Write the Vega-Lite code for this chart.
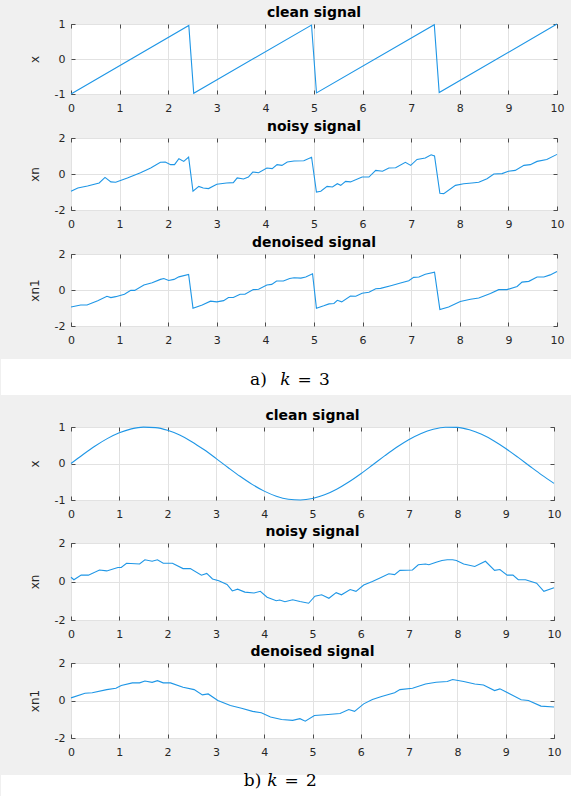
{
  "$schema": "https://vega.github.io/schema/vega-lite/v6.json",
  "background": "#f0f0f0",
  "padding": {"top": 5, "left": 0, "right": 0, "bottom": 0},
  "spacing": 13,
  "config": {
    "font": "DejaVu Sans",
    "view": {"stroke": "#262626", "strokeWidth": 1, "fill": "white"},
    "axis": {"labelFont": "DejaVu Sans", "labelFontSize": 11, "labelColor": "#262626", "tickColor": "#262626", "tickSize": -4, "tickWidth": 0.8, "gridColor": "#e2e2e2", "gridWidth": 1, "domain": false, "labelFlush": false, "labelOverlap": false, "titleFont": "DejaVu Sans", "titleFontSize": 12, "titleFontWeight": "normal", "titleColor": "#262626", "labelExpr": "'' + datum.value"},
    "axisX": {"labelPadding": 12},
    "axisY": {"labelPadding": 10, "titlePadding": 13},
    "title": {"font": "DejaVu Sans", "fontSize": 14, "fontWeight": "bold", "color": "#000000", "offset": -2},
    "line": {"color": "#1e96e6", "strokeWidth": 1.1}
  },
  "vconcat": [
    {
      "spacing": 0,
      "hconcat": [
        {"width": 25, "height": 10, "view": {"fill": "transparent", "stroke": "transparent"}, "data": {"values": []}, "mark": "point"},
        {
          "bounds": "flush",
          "spacing": 44,
          "vconcat": [
            {
              "width": 486, "height": 70, "title": "clean signal",
              "data": {"values": [{"t":0,"v":-1},{"t":2.424,"v":0.96},{"t":2.525,"v":-0.98},{"t":4.949,"v":0.97},{"t":5.051,"v":-0.97},{"t":7.475,"v":0.98},{"t":7.576,"v":-0.96},{"t":10,"v":1}]},
              "layer": [
                {"mark": "line", "encoding": {
                  "x": {"field": "t", "type": "quantitative", "scale": {"domain": [0, 10], "nice": false}, "axis": {"values": [0,1,2,3,4,5,6,7,8,9,10], "title": null}},
                  "y": {"field": "v", "type": "quantitative", "scale": {"domain": [-1, 1], "nice": false}, "axis": {"values": [-1,0,1], "title": "x"}}}},
                {"mark": {"type": "line", "opacity": 0}, "encoding": {
                  "x": {"field": "t", "type": "quantitative", "axis": {"orient": "top", "values": [0,1,2,3,4,5,6,7,8,9,10], "labels": false, "grid": false, "title": null}},
                  "y": {"field": "v", "type": "quantitative", "axis": {"orient": "right", "values": [-1,0,1], "labels": false, "grid": false, "title": null}}}}
              ],
              "resolve": {"axis": {"x": "independent", "y": "independent"}}
            },
            {
              "width": 486, "height": 72, "title": "noisy signal",
              "data": {"values": [{"t":0,"v":-0.96},{"t":0.14,"v":-0.78},{"t":0.34,"v":-0.67},{"t":0.58,"v":-0.5},{"t":0.7,"v":-0.19},{"t":0.82,"v":-0.44},{"t":0.92,"v":-0.46},{"t":1.16,"v":-0.22},{"t":1.43,"v":0.07},{"t":1.64,"v":0.33},{"t":1.84,"v":0.65},{"t":1.94,"v":0.67},{"t":2.05,"v":0.52},{"t":2.13,"v":0.52},{"t":2.22,"v":0.85},{"t":2.32,"v":0.7},{"t":2.42,"v":0.94},{"t":2.51,"v":-0.96},{"t":2.63,"v":-0.69},{"t":2.72,"v":-0.78},{"t":2.83,"v":-0.81},{"t":3.0,"v":-0.57},{"t":3.2,"v":-0.5},{"t":3.34,"v":-0.48},{"t":3.42,"v":-0.22},{"t":3.55,"v":-0.28},{"t":3.65,"v":-0.17},{"t":3.74,"v":0.11},{"t":3.86,"v":0.07},{"t":4.03,"v":0.33},{"t":4.14,"v":0.3},{"t":4.24,"v":0.52},{"t":4.34,"v":0.48},{"t":4.45,"v":0.67},{"t":4.59,"v":0.72},{"t":4.79,"v":0.74},{"t":4.95,"v":0.93},{"t":5.05,"v":-1.0},{"t":5.14,"v":-0.96},{"t":5.27,"v":-0.69},{"t":5.38,"v":-0.72},{"t":5.48,"v":-0.54},{"t":5.55,"v":-0.63},{"t":5.65,"v":-0.41},{"t":5.75,"v":-0.44},{"t":5.99,"v":-0.17},{"t":6.13,"v":-0.17},{"t":6.27,"v":0.2},{"t":6.41,"v":0.15},{"t":6.54,"v":0.33},{"t":6.68,"v":0.35},{"t":6.88,"v":0.65},{"t":6.99,"v":0.48},{"t":7.12,"v":0.81},{"t":7.29,"v":0.89},{"t":7.41,"v":1.07},{"t":7.48,"v":1.0},{"t":7.59,"v":-1.07},{"t":7.67,"v":-1.09},{"t":7.91,"v":-0.63},{"t":8.08,"v":-0.54},{"t":8.25,"v":-0.5},{"t":8.39,"v":-0.46},{"t":8.56,"v":-0.26},{"t":8.7,"v":0.0},{"t":8.87,"v":0.02},{"t":9.0,"v":0.15},{"t":9.14,"v":0.2},{"t":9.32,"v":0.48},{"t":9.45,"v":0.52},{"t":9.59,"v":0.7},{"t":9.79,"v":0.81},{"t":10,"v":1.09}]},
              "layer": [
                {"mark": "line", "encoding": {
                  "x": {"field": "t", "type": "quantitative", "scale": {"domain": [0, 10], "nice": false}, "axis": {"values": [0,1,2,3,4,5,6,7,8,9,10], "title": null}},
                  "y": {"field": "v", "type": "quantitative", "scale": {"domain": [-2, 2], "nice": false}, "axis": {"values": [-2,0,2], "title": "xn"}}}},
                {"mark": {"type": "line", "opacity": 0}, "encoding": {
                  "x": {"field": "t", "type": "quantitative", "axis": {"orient": "top", "values": [0,1,2,3,4,5,6,7,8,9,10], "labels": false, "grid": false, "title": null}},
                  "y": {"field": "v", "type": "quantitative", "axis": {"orient": "right", "values": [-2,0,2], "labels": false, "grid": false, "title": null}}}}
              ],
              "resolve": {"axis": {"x": "independent", "y": "independent"}}
            },
            {
              "width": 486, "height": 72, "title": "denoised signal",
              "data": {"values": [{"t":0,"v":-0.94},{"t":0.2,"v":-0.83},{"t":0.33,"v":-0.83},{"t":0.55,"v":-0.6},{"t":0.74,"v":-0.35},{"t":0.82,"v":-0.42},{"t":0.92,"v":-0.37},{"t":1.1,"v":-0.24},{"t":1.23,"v":-0.02},{"t":1.31,"v":-0.02},{"t":1.5,"v":0.28},{"t":1.67,"v":0.4},{"t":1.84,"v":0.59},{"t":1.91,"v":0.64},{"t":2.01,"v":0.53},{"t":2.12,"v":0.59},{"t":2.22,"v":0.73},{"t":2.42,"v":0.86},{"t":2.51,"v":-1.01},{"t":2.7,"v":-0.83},{"t":2.87,"v":-0.62},{"t":3.0,"v":-0.66},{"t":3.14,"v":-0.59},{"t":3.24,"v":-0.42},{"t":3.34,"v":-0.42},{"t":3.48,"v":-0.24},{"t":3.58,"v":-0.24},{"t":3.75,"v":0.02},{"t":3.86,"v":0.04},{"t":4.03,"v":0.28},{"t":4.13,"v":0.31},{"t":4.23,"v":0.5},{"t":4.37,"v":0.5},{"t":4.5,"v":0.64},{"t":4.59,"v":0.68},{"t":4.73,"v":0.66},{"t":4.83,"v":0.72},{"t":4.97,"v":0.9},{"t":5.05,"v":-1.01},{"t":5.2,"v":-0.88},{"t":5.31,"v":-0.77},{"t":5.41,"v":-0.75},{"t":5.48,"v":-0.57},{"t":5.57,"v":-0.66},{"t":5.75,"v":-0.33},{"t":5.86,"v":-0.35},{"t":5.99,"v":-0.18},{"t":6.13,"v":-0.13},{"t":6.27,"v":0.07},{"t":6.37,"v":0.09},{"t":6.58,"v":0.24},{"t":6.78,"v":0.39},{"t":6.95,"v":0.51},{"t":7.05,"v":0.7},{"t":7.16,"v":0.72},{"t":7.29,"v":0.88},{"t":7.48,"v":0.99},{"t":7.59,"v":-1.08},{"t":7.77,"v":-0.94},{"t":8.01,"v":-0.64},{"t":8.22,"v":-0.51},{"t":8.39,"v":-0.44},{"t":8.63,"v":-0.2},{"t":8.8,"v":0.02},{"t":8.97,"v":0.02},{"t":9.18,"v":0.2},{"t":9.28,"v":0.44},{"t":9.42,"v":0.48},{"t":9.59,"v":0.72},{"t":9.73,"v":0.72},{"t":9.86,"v":0.84},{"t":10,"v":1.03}]},
              "layer": [
                {"mark": "line", "encoding": {
                  "x": {"field": "t", "type": "quantitative", "scale": {"domain": [0, 10], "nice": false}, "axis": {"values": [0,1,2,3,4,5,6,7,8,9,10], "title": null}},
                  "y": {"field": "v", "type": "quantitative", "scale": {"domain": [-2, 2], "nice": false}, "axis": {"values": [-2,0,2], "title": "xn1"}}}},
                {"mark": {"type": "line", "opacity": 0}, "encoding": {
                  "x": {"field": "t", "type": "quantitative", "axis": {"orient": "top", "values": [0,1,2,3,4,5,6,7,8,9,10], "labels": false, "grid": false, "title": null}},
                  "y": {"field": "v", "type": "quantitative", "axis": {"orient": "right", "values": [-2,0,2], "labels": false, "grid": false, "title": null}}}}
              ],
              "resolve": {"axis": {"x": "independent", "y": "independent"}}
            }
          ]
        }
      ]
    },
    {
      "width": 571, "height": 36,
      "view": {"fill": "white", "stroke": null},
      "data": {"values": [{"fig": "a)", "k": "k", "eq": "=", "n": "3"}]},
      "layer": [
        {"mark": {"type": "text", "font": "DejaVu Serif", "fontSize": 17, "dx": -28, "dy": 3, "color": "#000000"}, "encoding": {"text": {"field": "fig"}}},
        {"mark": {"type": "text", "font": "DejaVu Serif", "fontSize": 17, "fontStyle": "italic", "dx": -1, "dy": 3, "color": "#000000"}, "encoding": {"text": {"field": "k"}}},
        {"mark": {"type": "text", "font": "DejaVu Serif", "fontSize": 17, "dx": 18, "dy": 3, "color": "#000000"}, "encoding": {"text": {"field": "eq"}}},
        {"mark": {"type": "text", "font": "DejaVu Serif", "fontSize": 17, "dx": 38, "dy": 3, "color": "#000000"}, "encoding": {"text": {"field": "n"}}}
      ]
    },
    {
      "spacing": 0,
      "hconcat": [
        {"width": 25, "height": 10, "view": {"fill": "transparent", "stroke": "transparent"}, "data": {"values": []}, "mark": "point"},
        {
          "bounds": "flush",
          "spacing": 43,
          "vconcat": [
            {
              "width": 483, "height": 73, "title": "clean signal",
              "data": {"values": [{"t":0,"v":0},{"t":0.25,"v":0.2474},{"t":0.5,"v":0.4794},{"t":0.75,"v":0.6816},{"t":1.0,"v":0.8415},{"t":1.25,"v":0.949},{"t":1.5,"v":0.9975},{"t":1.75,"v":0.984},{"t":2.0,"v":0.9093},{"t":2.25,"v":0.7781},{"t":2.5,"v":0.5985},{"t":2.75,"v":0.3817},{"t":3.0,"v":0.1411},{"t":3.25,"v":-0.1082},{"t":3.5,"v":-0.3508},{"t":3.75,"v":-0.5716},{"t":4.0,"v":-0.7568},{"t":4.25,"v":-0.895},{"t":4.5,"v":-0.9775},{"t":4.75,"v":-0.9993},{"t":5.0,"v":-0.9589},{"t":5.25,"v":-0.8589},{"t":5.5,"v":-0.7055},{"t":5.75,"v":-0.5083},{"t":6.0,"v":-0.2794},{"t":6.25,"v":-0.0332},{"t":6.5,"v":0.2151},{"t":6.75,"v":0.45},{"t":7.0,"v":0.657},{"t":7.25,"v":0.8231},{"t":7.5,"v":0.938},{"t":7.75,"v":0.9946},{"t":8.0,"v":0.9894},{"t":8.25,"v":0.9228},{"t":8.5,"v":0.7985},{"t":8.75,"v":0.6247},{"t":9.0,"v":0.4121},{"t":9.25,"v":0.1743},{"t":9.5,"v":-0.0752},{"t":9.75,"v":-0.3195},{"t":10.0,"v":-0.544}]},
              "layer": [
                {"mark": {"type": "line", "interpolate": "monotone"}, "encoding": {
                  "x": {"field": "t", "type": "quantitative", "scale": {"domain": [0, 10], "nice": false}, "axis": {"values": [0,1,2,3,4,5,6,7,8,9,10], "title": null}},
                  "y": {"field": "v", "type": "quantitative", "scale": {"domain": [-1, 1], "nice": false}, "axis": {"values": [-1,0,1], "title": "x"}}}},
                {"mark": {"type": "line", "opacity": 0}, "encoding": {
                  "x": {"field": "t", "type": "quantitative", "axis": {"orient": "top", "values": [0,1,2,3,4,5,6,7,8,9,10], "labels": false, "grid": false, "title": null}},
                  "y": {"field": "v", "type": "quantitative", "axis": {"orient": "right", "values": [-1,0,1], "labels": false, "grid": false, "title": null}}}}
              ],
              "resolve": {"axis": {"x": "independent", "y": "independent"}}
            },
            {
              "width": 483, "height": 77, "title": "noisy signal",
              "data": {"values": [{"t":0,"v":0.22},{"t":0.06,"v":0.09},{"t":0.21,"v":0.33},{"t":0.36,"v":0.33},{"t":0.59,"v":0.6},{"t":0.74,"v":0.55},{"t":0.97,"v":0.73},{"t":1.04,"v":0.73},{"t":1.15,"v":0.95},{"t":1.42,"v":0.91},{"t":1.53,"v":1.13},{"t":1.68,"v":1.05},{"t":1.79,"v":1.13},{"t":1.91,"v":0.95},{"t":2.1,"v":0.95},{"t":2.32,"v":0.67},{"t":2.47,"v":0.67},{"t":2.7,"v":0.33},{"t":2.81,"v":0.42},{"t":2.93,"v":0.13},{"t":3.06,"v":0.04},{"t":3.23,"v":-0.15},{"t":3.34,"v":-0.49},{"t":3.45,"v":-0.4},{"t":3.6,"v":-0.55},{"t":3.79,"v":-0.6},{"t":3.92,"v":-0.51},{"t":4.06,"v":-0.82},{"t":4.25,"v":-1.0},{"t":4.32,"v":-0.96},{"t":4.43,"v":-1.05},{"t":4.59,"v":-0.95},{"t":4.74,"v":-1.04},{"t":4.92,"v":-1.13},{"t":5.05,"v":-0.76},{"t":5.19,"v":-0.69},{"t":5.34,"v":-0.87},{"t":5.49,"v":-0.58},{"t":5.6,"v":-0.69},{"t":5.78,"v":-0.42},{"t":5.9,"v":-0.51},{"t":6.06,"v":-0.18},{"t":6.24,"v":0.0},{"t":6.43,"v":0.22},{"t":6.58,"v":0.4},{"t":6.7,"v":0.36},{"t":6.81,"v":0.58},{"t":7.07,"v":0.6},{"t":7.19,"v":0.87},{"t":7.34,"v":0.91},{"t":7.41,"v":0.87},{"t":7.56,"v":1.0},{"t":7.68,"v":1.09},{"t":7.79,"v":1.13},{"t":7.9,"v":1.13},{"t":7.98,"v":1.09},{"t":8.13,"v":0.91},{"t":8.36,"v":0.78},{"t":8.58,"v":1.05},{"t":8.77,"v":0.58},{"t":8.88,"v":0.62},{"t":9.03,"v":0.33},{"t":9.15,"v":0.33},{"t":9.26,"v":0.09},{"t":9.41,"v":0.09},{"t":9.64,"v":-0.09},{"t":9.79,"v":-0.51},{"t":10,"v":-0.33}]},
              "layer": [
                {"mark": "line", "encoding": {
                  "x": {"field": "t", "type": "quantitative", "scale": {"domain": [0, 10], "nice": false}, "axis": {"values": [0,1,2,3,4,5,6,7,8,9,10], "title": null}},
                  "y": {"field": "v", "type": "quantitative", "scale": {"domain": [-2, 2], "nice": false}, "axis": {"values": [-2,0,2], "title": "xn"}}}},
                {"mark": {"type": "line", "opacity": 0}, "encoding": {
                  "x": {"field": "t", "type": "quantitative", "axis": {"orient": "top", "values": [0,1,2,3,4,5,6,7,8,9,10], "labels": false, "grid": false, "title": null}},
                  "y": {"field": "v", "type": "quantitative", "axis": {"orient": "right", "values": [-2,0,2], "labels": false, "grid": false, "title": null}}}}
              ],
              "resolve": {"axis": {"x": "independent", "y": "independent"}}
            },
            {
              "width": 483, "height": 75, "title": "denoised signal",
              "data": {"values": [{"t":0,"v":0.14},{"t":0.29,"v":0.39},{"t":0.44,"v":0.41},{"t":0.74,"v":0.58},{"t":0.93,"v":0.65},{"t":1.04,"v":0.8},{"t":1.27,"v":0.94},{"t":1.42,"v":0.94},{"t":1.53,"v":1.04},{"t":1.68,"v":0.97},{"t":1.79,"v":1.06},{"t":1.91,"v":0.94},{"t":2.06,"v":0.94},{"t":2.32,"v":0.71},{"t":2.55,"v":0.58},{"t":2.72,"v":0.3},{"t":2.84,"v":0.35},{"t":3.04,"v":0.0},{"t":3.3,"v":-0.27},{"t":3.53,"v":-0.41},{"t":3.76,"v":-0.58},{"t":3.94,"v":-0.65},{"t":4.13,"v":-0.88},{"t":4.36,"v":-1.01},{"t":4.59,"v":-1.06},{"t":4.74,"v":-0.97},{"t":4.85,"v":-1.1},{"t":5.04,"v":-0.8},{"t":5.26,"v":-0.76},{"t":5.57,"v":-0.69},{"t":5.75,"v":-0.48},{"t":5.87,"v":-0.58},{"t":6.06,"v":-0.18},{"t":6.24,"v":0.05},{"t":6.43,"v":0.21},{"t":6.7,"v":0.41},{"t":6.81,"v":0.58},{"t":7.07,"v":0.65},{"t":7.34,"v":0.88},{"t":7.56,"v":0.97},{"t":7.79,"v":1.01},{"t":7.9,"v":1.12},{"t":8.13,"v":1.01},{"t":8.36,"v":0.88},{"t":8.54,"v":0.83},{"t":8.77,"v":0.53},{"t":8.88,"v":0.62},{"t":9.09,"v":0.35},{"t":9.32,"v":0.04},{"t":9.47,"v":0.0},{"t":9.73,"v":-0.3},{"t":10,"v":-0.35}]},
              "layer": [
                {"mark": "line", "encoding": {
                  "x": {"field": "t", "type": "quantitative", "scale": {"domain": [0, 10], "nice": false}, "axis": {"values": [0,1,2,3,4,5,6,7,8,9,10], "title": null}},
                  "y": {"field": "v", "type": "quantitative", "scale": {"domain": [-2, 2], "nice": false}, "axis": {"values": [-2,0,2], "title": "xn1"}}}},
                {"mark": {"type": "line", "opacity": 0}, "encoding": {
                  "x": {"field": "t", "type": "quantitative", "axis": {"orient": "top", "values": [0,1,2,3,4,5,6,7,8,9,10], "labels": false, "grid": false, "title": null}},
                  "y": {"field": "v", "type": "quantitative", "axis": {"orient": "right", "values": [-2,0,2], "labels": false, "grid": false, "title": null}}}}
              ],
              "resolve": {"axis": {"x": "independent", "y": "independent"}}
            }
          ]
        }
      ]
    },
    {
      "width": 571, "height": 27,
      "view": {"fill": "white", "stroke": null},
      "data": {"values": [{"fig": "b)", "k": "k", "eq": "=", "n": "2"}]},
      "layer": [
        {"mark": {"type": "text", "font": "DejaVu Serif", "fontSize": 17, "dx": -34, "dy": -8, "color": "#000000"}, "encoding": {"text": {"field": "fig"}}},
        {"mark": {"type": "text", "font": "DejaVu Serif", "fontSize": 17, "fontStyle": "italic", "dx": -14, "dy": -8, "color": "#000000"}, "encoding": {"text": {"field": "k"}}},
        {"mark": {"type": "text", "font": "DejaVu Serif", "fontSize": 17, "dx": 5, "dy": -8, "color": "#000000"}, "encoding": {"text": {"field": "eq"}}},
        {"mark": {"type": "text", "font": "DejaVu Serif", "fontSize": 17, "dx": 25, "dy": -8, "color": "#000000"}, "encoding": {"text": {"field": "n"}}}
      ]
    }
  ]
}
